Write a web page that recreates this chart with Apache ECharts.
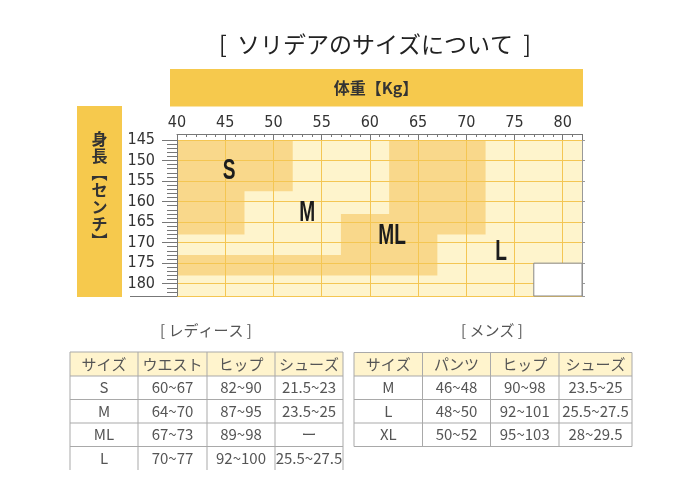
<!DOCTYPE html>
<html><head><meta charset="utf-8">
<script src="https://cdn.jsdelivr.net/npm/echarts@6/dist/echarts.min.js"></script>
<style>html,body{margin:0;padding:0;background:#fff}#c{width:690px;height:504px}</style>
</head><body><div id="c"></div>
<script>
// ---- data ----
const titleText = '[  ソリデアのサイズについて  ]';
const weightTitle = '体重【Kg】';
const heightTitle = ['身','長','︻','セ','ン','チ','︼'];
const weightRange = [40, 82];
const heightRange = [145, 183];
const plotArea = [[40,145],[82,145],[82,183],[40,183]];
const sRegion = [[40,145],[52,145],[52,157.5],[47,157.5],[47,168],[40,168]];
const mlRegion = [[62,145],[72,145],[72,168],[67,168],[67,178],[40,178],[40,173],[57,173],[57,163],[62,163]];
const blankBox = [[77,175],[82,175],[82,183],[77,183]];
const sizeNames = ['S','M','ML','L'];
const sizeWeight = [45.4, 53.5, 62.3, 73.6];
const sizeHeight = [152.6, 162.7, 168.4, 172.4];

const ladiesCaption = '[ レディース ]';
const ladiesHeader = ['サイズ','ウエスト','ヒップ','シューズ'];
const ladiesRows = [
  ['S','60~67','82~90','21.5~23'],
  ['M','64~70','87~95','23.5~25'],
  ['ML','67~73','89~98','ー'],
  ['L','70~77','92~100','25.5~27.5']
];
const mensCaption = '[ メンズ ]';
const mensHeader = ['サイズ','パンツ','ヒップ','シューズ'];
const mensRows = [
  ['M','46~48','90~98','23.5~25'],
  ['L','48~50','92~101','25.5~27.5'],
  ['XL','50~52','95~103','28~29.5']
];

// ---- styles / layout ----
const NUMF = '"Liberation Sans Narrow","DejaVu Sans Condensed",sans-serif';
const JPF = '"Noto Sans CJK JP","Noto Sans",sans-serif';
const LIGHT = '#FEF4CC', DARK = '#F9D88B', GRIDC = '#F4C653', BAR = '#F6C94D', AXC = '#777';

function polySeries(points, fill, stroke, z){
  return {
    type:'custom', z:z, silent:true, data:[0],
    renderItem:function(params, api){
      return {type:'polygon', shape:{points: points.map(p=>api.coord(p))},
        style:{fill:fill, stroke:stroke||'none', lineWidth:1}};
    }
  };
}

function tableGraphics(cols, rows, header, body, headFill, drawBottom){
  const g = [];
  g.push({type:'rect', shape:{x:cols[0], y:rows[0], width:cols[cols.length-1]-cols[0], height:rows[1]-rows[0]}, style:{fill:headFill}});
  const last = rows.length-1;
  rows.forEach((y,i)=>{
    if(i===last && !drawBottom) return;
    g.push({type:'line', shape:{x1:cols[0], y1:y, x2:cols[cols.length-1], y2:y}, style:{stroke:'#a9a9a9', lineWidth:1}});
  });
  cols.forEach(x=>{
    g.push({type:'line', shape:{x1:x, y1:rows[0], x2:x, y2:rows[last]}, style:{stroke:'#a9a9a9', lineWidth:1}});
  });
  const all = [header].concat(body);
  all.forEach((r,ri)=>{
    r.forEach((t,ci)=>{
      g.push({type:'text', x:(cols[ci]+cols[ci+1])/2, y:(rows[ri]+rows[ri+1])/2,
        style:{text:t, fill:'#555', font:'15px '+JPF, textAlign:'center', textVerticalAlign:'middle'}});
    });
  });
  return g;
}

const ladiesCols = [70,138,207,275,343];
const ladiesRowsY = [352,376,399.5,423,446.5,470];
const mensCols = [354,422.5,490.5,559,632];
const mensRowsY = [352.5,376,399.5,423,446.5];

const graphics = [
  {type:'text', x:375, y:44, style:{text:titleText, fill:'#222', font:'23px '+JPF, textAlign:'center', textVerticalAlign:'middle'}},
  {type:'rect', shape:{x:170, y:69, width:413, height:37.5}, style:{fill:BAR}},
  {type:'text', x:376, y:88, style:{text:weightTitle, fill:'#333', font:'bold 16px '+JPF, textAlign:'center', textVerticalAlign:'middle'}},
  {type:'rect', shape:{x:77, y:106, width:45, height:191}, style:{fill:BAR}},
  {type:'text', x:99.5, y:190, style:{text:heightTitle.join('\n'), fill:'#333', font:'bold 16px '+JPF, lineHeight:17, textAlign:'center', textVerticalAlign:'middle'}},
  {type:'line', shape:{x1:130, y1:296.5, x2:583, y2:296.5}, style:{stroke:AXC, lineWidth:1}},
  {type:'text', x:206, y:330, style:{text:ladiesCaption, fill:'#555', font:'15px '+JPF, textAlign:'center', textVerticalAlign:'middle'}},
  {type:'text', x:492, y:330, style:{text:mensCaption, fill:'#555', font:'15px '+JPF, textAlign:'center', textVerticalAlign:'middle'}}
].concat(tableGraphics(ladiesCols, ladiesRowsY, ladiesHeader, ladiesRows, '#FFF4CD', false))
 .concat(tableGraphics(mensCols, mensRowsY, mensHeader, mensRows, '#FFF4CD', true));

const chart = echarts.init(document.getElementById('c'), null, {renderer:'canvas'});
chart.setOption({
  animation:false,
  backgroundColor:'#fff',
  grid:{left:177, right:108, top:140, bottom:208},
  xAxis:{
    type:'value', position:'top', min:weightRange[0], max:weightRange[1], interval:5, offset:6,
    axisLine:{show:true, lineStyle:{color:AXC}},
    axisTick:{show:true, inside:true, length:6, lineStyle:{color:AXC}},
    minorTick:{show:true, splitNumber:5, length:3, lineStyle:{color:AXC}},
    axisLabel:{margin:3, fontSize:16, color:'#333', fontFamily:NUMF, showMaxLabel:false},
    splitLine:{show:true, lineStyle:{color:GRIDC, width:1}}
  },
  yAxis:[{
    type:'value', inverse:true, min:heightRange[0], max:heightRange[1], interval:5,
    axisLine:{show:true, lineStyle:{color:AXC}},
    axisTick:{show:true, length:15, lineStyle:{color:AXC}},
    minorTick:{show:true, splitNumber:5, length:10, lineStyle:{color:AXC}},
    axisLabel:{margin:22, fontSize:16, color:'#333', fontFamily:NUMF, showMaxLabel:false},
    splitLine:{show:true, lineStyle:{color:GRIDC, width:1}}
  },{
    type:'value', inverse:true, position:'right', min:heightRange[0], max:heightRange[1], interval:5,
    axisLine:{show:true, lineStyle:{color:'#999'}},
    axisTick:{show:true, length:3, lineStyle:{color:'#999'}},
    axisLabel:{show:false}, splitLine:{show:false}
  }],
  graphic:graphics,
  series:[
    polySeries(plotArea, LIGHT, null, -3),
    polySeries(sRegion, DARK, null, -2),
    polySeries(mlRegion, DARK, null, -2),
    polySeries(blankBox, '#fff', '#888', 5),
    {
      type:'custom', z:10, silent:true,
      data:sizeNames.map((n,i)=>[sizeWeight[i], sizeHeight[i], n]),
      renderItem:function(params, api){
        const p = api.coord([api.value(0), api.value(1)]);
        const name = sizeNames[params.dataIndex];
        return {type:'text', x:p[0], y:p[1], scaleX:0.66,
          style:{text:name, fill:'#1c1c1c', font:'bold 29px "Liberation Sans",Arial,sans-serif',
            align:'center', verticalAlign:'middle', textAlign:'center', textVerticalAlign:'middle'}};
      }
    }
  ]
});
</script></body></html>
